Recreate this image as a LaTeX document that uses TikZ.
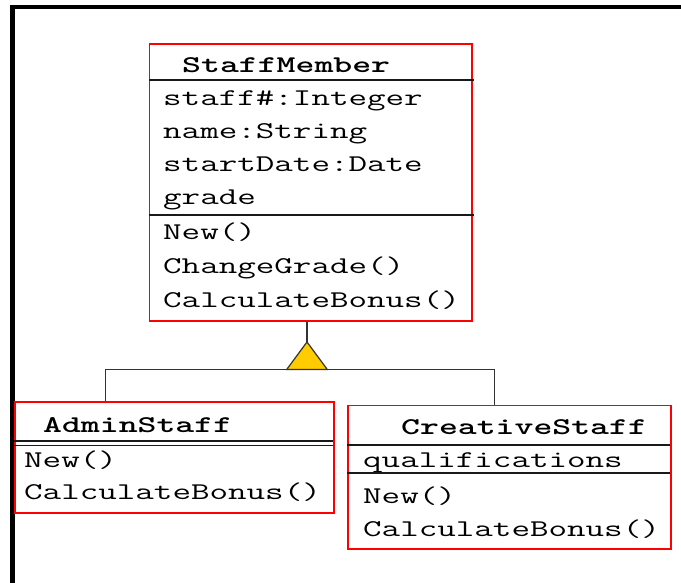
\documentclass[tikz,border=0pt]{standalone}
\usepackage{graphicx}
\definecolor{gold}{HTML}{FFCC00}
\tikzset{
  classbox/.style={draw=red, line width=1.4pt, inner sep=0pt},
  member/.style={anchor=base west, inner sep=0pt, font=\fontsize{24}{28}\selectfont\ttfamily},
  title/.style={member, font=\fontsize{24}{28}\selectfont\ttfamily\bfseries},
  divider/.style={line width=1.8pt, black!90},
  tree/.style={line width=1.2pt, black!80},
}
\newcommand\wide[1]{\scalebox{1.5}[1]{#1}}
\begin{document}
\begin{tikzpicture}[x=1pt, y=-1pt]
\useasboundingbox (0,0) rectangle (681,583);
% frame
\fill (10,5) rectangle (681,9);
\fill (10,5) rectangle (15,583);

% StaffMember
\node[classbox, minimum width=322.5pt, minimum height=277pt] (staff) at (310.75,182.5) {};
\node[title] (staff-name) at (182,73) {\wide{StaffMember}};
\foreach \n/\y/\t in {1/106/staff\#:Integer, 2/139/name:String, 3/172/startDate:Date, 4/205/grade, 5/240/New(), 6/274/ChangeGrade(), 7/308/CalculateBonus()}
  \node[member] (staff-\n) at (163,\y) {\wide{\t}};
\draw[divider] ([yshift=-37pt]staff.north west) -- ++(325,0);
\draw[divider] ([yshift=-171.5pt]staff.north west) -- ++(325,0);

% AdminStaff
\node[classbox, minimum width=319pt, minimum height=111pt] (admin) at (174.5,457.5) {};
\node[title] (admin-name) at (43,432) {\wide{AdminStaff}};
\node[member] (admin-1) at (24,467) {\wide{New()}};
\node[member] (admin-2) at (24,499) {\wide{CalculateBonus()}};
\draw[divider, line width=1.3pt] ([yshift=-39.7pt]admin.north west) -- ++(319,0);
\draw[divider, line width=1.3pt] ([yshift=-43.9pt]admin.north west) -- ++(319,0);

% CreativeStaff
\node[classbox, minimum width=323pt, minimum height=143.5pt] (creative) at (509.5,477.25) {};
\node[title] (creative-name) at (401,434) {\wide{CreativeStaff}};
\node[member] (creative-1) at (363,467) {\wide{qualifications}};
\node[member] (creative-2) at (363,503) {\wide{New()}};
\node[member] (creative-3) at (363,536) {\wide{CalculateBonus()}};
\draw[divider] ([yshift=-40.5pt]creative.north west) -- ++(323,0);
\draw[divider] ([yshift=-68.5pt]creative.north west) -- ++(323,0);

% generalisation
\coordinate (apex) at (307,342);
\coordinate (joint) at (307,369.5);
\draw[tree] (apex |- staff.south) -- (apex);
\draw[tree] ([xshift=91pt]admin.north west) |- (joint) -| ([xshift=147pt]creative.north west);
\draw[tree, fill=gold] (apex) -- ++(20.3,27.5) -- ++(-40.6,0) -- cycle;
\end{tikzpicture}
\end{document}
